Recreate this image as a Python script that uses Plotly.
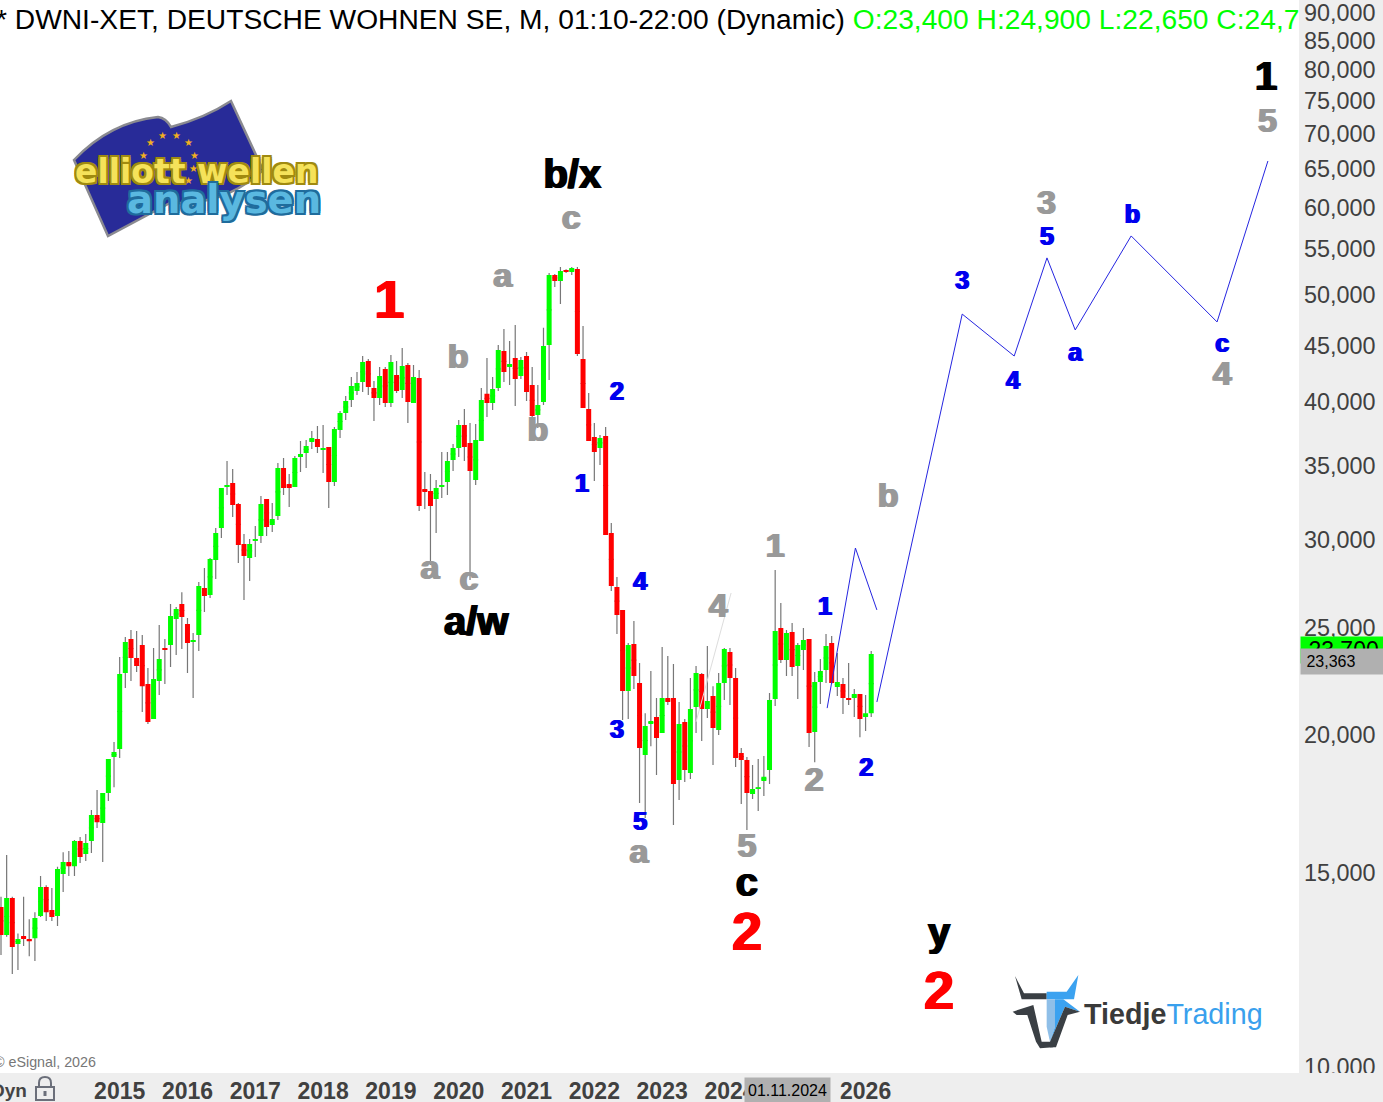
import math
import plotly.graph_objects as go

opens = [13960,13170,14220,12920,13140,13060,13080,13700,14550,13870,13700,14950,15330,15200,16020,15590,16020,16910,16630,17700,
19080,19400,22740,24400,23460,24100,22220,20660,22360,23950,24100,25440,26250,25180,24250,24610,27140,26750,28780,30760,
33500,33780,32340,29750,28900,29940,30250,32680,30950,31540,34860,33710,33500,35670,35970,36800,37030,36190,36420,33850,
37730,39090,40170,40930,41710,43570,41190,40340,42850,39920,42320,41010,43210,39920,42050,33370,33230,32680,33500,33850,
35440,36340,38130,36720,34000,36880,40680,39920,41190,44490,43030,43840,42230,44020,41450,38930,40000,45050,52120,51480,
52670,52450,52780,43750,39420,37180,36340,37260,30440,27200,25930,21900,24150,22270,19160,20440,20740,20060,21580,21580,
18190,20530,18460,21180,22690,21090,21670,20190,22270,23750,22500,19240,18960,17670,17850,18150,18570,21540,24970,23360,
24760,23070,23850,24400,20100,22310,22880,24200,22080,22220,21580,21580,21760,20740,20910]
highs = [14260,15560,14260,13210,14260,13610,13810,14890,14610,14520,15180,15650,15690,16050,16150,16250,17090,17810,17700,19000,
19690,23500,24500,24870,24810,24610,22970,23950,25130,24400,26250,26090,26900,25500,24710,27480,28300,28900,30760,33440,
35370,34790,32410,30380,30060,30890,32880,32680,32410,35220,35590,34420,35740,36880,36950,37650,38050,38130,36420,37970,
39260,40510,42140,42580,44020,43750,41790,43030,43030,44110,43570,44770,43390,43210,42760,34570,34420,34000,36040,36040,
36650,38530,39420,38280,38200,41190,43840,42140,45050,46580,45420,46970,43930,44400,43030,41450,46680,52340,52230,53000,
52750,53000,53000,46870,40760,38280,37340,37970,31080,27770,25930,24200,25340,23210,20910,22830,21580,24000,23560,23170,
21400,20660,22500,23070,22740,24050,22120,22740,23950,23950,22970,19440,19080,18770,19000,19120,21810,28180,26300,24870,
25230,24200,24970,24400,22780,23410,24660,24560,23700,22500,23210,21990,21760,21720,23800]
lows = [12630,13120,12140,12240,12870,12600,12470,13670,13560,13560,13420,14400,14890,14890,15300,15360,15620,16460,15330,17410,
17920,19040,22030,22360,22780,20960,20440,20660,21720,22220,23020,23600,23900,22740,21580,23800,25820,26580,27660,30130,
32950,31470,28600,26470,27540,28960,29810,30250,30500,31280,32950,32130,33500,34570,34860,36270,35970,34500,32070,33570,
37110,38530,39590,40590,40840,40590,38450,39750,39590,39590,40760,40340,38280,39920,31870,32000,28470,30440,32750,32950,
34640,35670,35370,27600,33650,36880,38770,39340,40930,41710,41450,39670,41970,40080,38530,37890,39750,41880,50840,49070,
52340,52120,44020,39500,36880,33920,35080,30310,26970,24660,20610,20660,21990,17340,16800,19520,18380,20060,21270,16560,
17450,18110,18230,20060,19730,20700,18770,19980,21490,21270,18690,17300,16390,17480,17050,17590,18040,21220,23210,22590,
22590,21540,22880,19480,18880,21310,22270,22220,21670,20870,21270,20740,19890,20150,20740]
closes = [13170,14220,12840,13060,13060,13000,13640,14550,13810,13670,15110,15330,15200,16020,15490,15950,16910,16660,17700,19000,
19280,22690,24250,23460,23070,22120,20530,22450,23410,23850,25600,25980,25550,24200,24350,27260,26690,28840,30440,33440,
33650,32270,29690,29010,29750,30060,32340,30820,31340,34860,33440,33440,35590,35890,36490,37110,36420,36340,33850,37810,
39090,40080,41360,41620,43480,41270,40340,42230,39920,43480,40930,43120,40000,42140,32200,33160,32200,33440,33650,35370,
36340,38130,36420,34640,36950,40170,39920,41100,44580,42580,43300,41970,43660,40840,38850,39750,44950,52120,51480,52560,
52450,52890,44200,39500,36880,36040,37110,30310,27260,25650,21900,24100,22590,19440,20360,20570,19850,21580,21400,18040,
20440,18570,21090,22740,21090,21450,20270,22270,23900,22500,19040,18960,17700,17850,17920,18310,21490,24810,23360,24710,
23020,24100,24350,20060,22310,22830,24050,22270,22310,21580,21490,21760,20660,20910,23650]

year_ticks = [21, 33, 45, 57, 69, 81, 93, 105, 117, 129, 141, 153]
year_labels = ["2015", "2016", "2017", "2018", "2019", "2020", "2021", "2022", "2023", "2024", "2025", "2026"]
price_ticks = [10000, 15000, 20000, 25000, 30000, 35000, 40000, 45000, 50000, 55000, 60000, 65000, 70000, 75000, 80000, 85000, 90000]

path_a_x = [146.2, 151.2, 155.0]
path_a_y = [21130, 29500, 25930]
path_b_x = [155.0, 170.1, 179.3, 185.1, 190.1, 200.0, 215.2, 224.2]
path_b_y = [21400, 48040, 44020, 54010, 46480, 56540, 47260, 66100]
faint_x = [123.0, 129.2]
faint_y = [20530, 26860]

grey_text = ["c", "a", "b", "b", "a", "c", "1", "4", "a", "5", "2", "b", "3", "4", "5"]
grey_x = [100.9, 88.8, 80.9, 95.0, 75.9, 82.8, 137.0, 126.9, 112.9, 132.0, 143.9, 157.0, 185.0, 216.1, 224.1]
grey_y = [58330, 51720, 43740, 37570, 28170, 27490, 29500, 25980, 15580, 15780, 18080, 32740, 60190, 42220, 71410]
blue_text = ["2", "1", "4", "3", "5", "1", "2", "3", "5", "4", "a", "b", "c"]
blue_x = [109.0, 102.8, 113.1, 109.0, 113.1, 145.8, 153.1, 170.1, 185.1, 179.1, 190.1, 200.2, 216.1]
blue_y = [40720, 33600, 27400, 20120, 16610, 25980, 18580, 51320, 56250, 41660, 44170, 58830, 45000]
black_text = ["b/x", "a/w", "c", "y", "1"]
black_x = [101.1, 84.1, 132.0, 166.0, 223.9]
black_y = [63860, 25110, 14590, 13130, 78200]
red_text = ["1", "2", "2"]
red_x = [68.7, 132.0, 166.0]
red_y = [49060, 13140, 11610]

W, H, PW, PH = 1383, 1102, 1299, 1073
FONT = "Liberation Sans, Arial, sans-serif"
def px(x): return x / PW
def py(y): return 1 - y / PH
def pt(x, y): return f"{px(x):.5f},{py(y):.5f}"
def poly(points, ox=0, oy=0, k=1.0):
    parts = []
    for n, (a, b) in enumerate(points):
        parts.append(("M" if n == 0 else "L") + pt(ox + a * k, oy + b * k))
    return " ".join(parts) + " Z"
def heavy(col):
    return f"1px 0 0 {col},-1px 0 0 {col}"

xs = list(range(len(opens)))
mids = [math.sqrt(o * c) for o, c in zip(opens, closes)]

fig = go.Figure()
fig.add_trace(go.Scatter(x=faint_x, y=faint_y, mode="lines", line=dict(color="#dddddd", width=1), hoverinfo="skip"))
# wicks: grey candlestick whose box collapses inside the coloured body drawn on top of it
fig.add_trace(go.Candlestick(x=xs, open=mids, high=highs, low=lows, close=mids,
    increasing=dict(line=dict(color="#777777", width=1.2), fillcolor="#777777"),
    decreasing=dict(line=dict(color="#777777", width=1.2), fillcolor="#777777")))
fig.add_trace(go.Candlestick(x=xs, open=opens, high=highs, low=lows, close=closes,
    increasing=dict(line=dict(color="#00ff00", width=0), fillcolor="#00ff00"),
    decreasing=dict(line=dict(color="#ff0000", width=0), fillcolor="#ff0000")))
for px_, py_ in [(path_a_x, path_a_y), (path_b_x, path_b_y)]:
    fig.add_trace(go.Scatter(x=px_, y=py_, mode="lines", line=dict(color="#2525e0", width=1), hoverinfo="skip"))
for tx, lx, ly, col, size in [(grey_text, grey_x, grey_y, "#999999", 34), (blue_text, blue_x, blue_y, "#0000ee", 25),
                              (black_text, black_x, black_y, "#000000", 40), (red_text, red_x, red_y, "#ff0000", 54)]:
    fig.add_trace(go.Scatter(x=lx, y=ly, text=tx, mode="text", textposition="middle center", hoverinfo="skip",
                             textfont=dict(family=FONT, size=size, color=col, weight=700, shadow=heavy(col))))

flag_path = (f"M{pt(74,160)} Q{pt(110,122)} {pt(158,117)} Q{pt(166,118)} {pt(171,127)} Q{pt(205,118)} {pt(231,101)} "
             f"L{pt(263,170)} Q{pt(225,206)} {pt(170,203)} L{pt(108,236)} Z")
shapes = [
    # hides the part of the lowest price label that falls below the chart area
    dict(type="rect", xref="paper", yref="paper", x0=1, x1=W / PW, y0=py(H), y1=py(PH), fillcolor="#eeeeee",
         line=dict(width=0), layer="above"),
    # lock icon
    dict(type="path", xref="paper", yref="paper", path=poly([(36, 1087), (54, 1087), (54, 1100), (36, 1100)]),
         line=dict(color="#6b6f7a", width=2), fillcolor="rgba(0,0,0,0)", layer="above"),
    dict(type="path", xref="paper", yref="paper",
         path=f"M{pt(39,1087)} L{pt(39,1083)} Q{pt(39,1077)} {pt(45,1077)} Q{pt(51,1077)} {pt(51,1083)} L{pt(51,1087)}",
         line=dict(color="#6b6f7a", width=2), layer="above"),
    dict(type="rect", xref="paper", yref="paper", x0=px(43.5), x1=px(46.5), y0=py(1096), y1=py(1091),
         fillcolor="#6b6f7a", line=dict(width=0), layer="above"),
    # flag behind the Elliott logo
    dict(type="path", xref="paper", yref="paper", layer="below", fillcolor="#282b98", line=dict(color="#8a8a90", width=2.5), path=flag_path),
    # bull logo
    dict(type="path", xref="paper", yref="paper", layer="below", fillcolor="#3a3f44", line=dict(width=0),
         path=poly([(45,48),(72,100),(140,100),(140,118),(65,118)], 1000, 960, 1/3)),
    dict(type="path", xref="paper", yref="paper", layer="below", fillcolor="#3ba2f0", line=dict(width=0),
         path=poly([(140,95),(200,95),(235,45),(222,118),(140,118)], 1000, 960, 1/3)),
    dict(type="path", xref="paper", yref="paper", layer="below", fillcolor="#8fbfe8", line=dict(width=0),
         path=poly([(140,118),(165,118),(165,200),(150,245),(140,200)], 1000, 960, 1/3)),
    dict(type="path", xref="paper", yref="paper", layer="below", fillcolor="#3ba2f0", line=dict(width=0),
         path=poly([(165,118),(190,118),(240,155),(195,140),(150,245),(165,200)], 1000, 960, 1/3)),
    dict(type="path", xref="paper", yref="paper", layer="below", fillcolor="#3a3f44", line=dict(width=0),
         path=poly([(38,155),(100,135),(125,245),(150,245),(160,262),(120,265),(108,245),(82,165),(50,165)], 1000, 960, 1/3)),
    dict(type="path", xref="paper", yref="paper", layer="below", fillcolor="#3a3f44", line=dict(width=0),
         path=poly([(195,140),(240,155),(203,165),(168,262),(150,262),(150,245)], 1000, 960, 1/3)),
]

def note(x, y, text, size=16, color="#000000", xanchor="left", **kw):
    family = kw.pop("family", FONT)
    return dict(xref="paper", yref="paper", x=px(x), y=py(y), text=text, showarrow=False, xanchor=xanchor, yanchor="middle",
                font=dict(family=family, size=size, color=color), **kw)

outline_y = ",".join(f"{a}px {b}px 0 #a08a10" for a, b in [(-2,0),(2,0),(0,-2),(0,2),(-2,-2),(2,2),(-2,2),(2,-2)])
outline_b = ",".join(f"{a}px {b}px 0 #1f6c9c" for a, b in [(-2,0),(2,0),(0,-2),(0,2),(-2,-2),(2,2),(-2,2),(2,-2)])

annotations = [
    note(-6, 19, '* DWNI-XET, DEUTSCHE WOHNEN SE, M, 01:10-22:00 (Dynamic) <span style="color:#00ff00">O:23,400 H:24,900 L:22,650 C:24,7</span>', size=28.2),
    note(98, 1062, "© eSignal, 2026", size=14.3, color="#777777", xanchor="right"),
    note(29, 1090, "<b>Dyn</b>", size=19, color="#444444", xanchor="right"),
    note(1300, 650, "&nbsp;23,700", size=23, bgcolor="#00ff00", width=83, height=24, align="left"),
    note(1300, 661, "&nbsp;23,363", size=16, bgcolor="#b0b0b0", width=83, height=23, align="left"),
    note(787.5, 1090.5, "01.11.2024", size=16, xanchor="center", bgcolor="#b0b0b0", width=83, height=23),
    note(1082, 1014, '<b>Tiedje</b><span style="color:#39a0ed">Trading</span>', size=28.7, color="#3a3a3a"),
]
star_points = [(307,137),(349,137),(271,158),(384,158),(404,195),(250,195),(400,235),(385,272)]
for a, b in star_points:
    annotations.append(note(60 + a / 3, 90 + b / 3, "★", size=10, color="#f0b020", xanchor="center", family="DejaVu Sans"))
annotations += [
    dict(xref="paper", yref="paper", x=px(196), y=py(172), text="elliott wellen", showarrow=False, xanchor="center", yanchor="middle",
         font=dict(family="DejaVu Sans", size=33, color="#f5e25a", weight=700, shadow=outline_y)),
    dict(xref="paper", yref="paper", x=px(224), y=py(200), text="analysen", showarrow=False, xanchor="center", yanchor="middle",
         font=dict(family="DejaVu Sans", size=38.5, color="#5ab8e0", weight=700, shadow=outline_b)),
]

fig.update_layout(
    width=W, height=H, margin=dict(l=0, r=W - PW, t=0, b=H - PH, pad=0, autoexpand=False),
    paper_bgcolor="#eeeeee", plot_bgcolor="#ffffff", showlegend=False, boxmode="overlay", boxgap=0.115, boxgroupgap=0,
    font=dict(family=FONT), hovermode=False, shapes=shapes, annotations=annotations,
    xaxis=dict(type="linear", automargin=False, range=[-0.177, 229.7], rangeslider=dict(visible=False), showgrid=False, zeroline=False, showline=False,
               tickmode="array", tickvals=year_ticks, ticktext=year_labels, ticks="", ticklabelstandoff=2, ticklabeloverflow="allow",
               tickfont=dict(family=FONT, size=23, color="#404040", weight=700)),
    yaxis=dict(type="log", automargin=False, range=[3.99457, 4.96595], side="right", showgrid=False, zeroline=False, showline=False,
               tickmode="array", tickvals=price_ticks, ticktext=[f"{v:,}" for v in price_ticks], ticks="", ticklabelstandoff=4, ticklabeloverflow="allow",
               tickfont=dict(family=FONT, size=23.4, color="#404040")),
)
fig.write_html("out.html", config=dict(displayModeBar=False),
               post_script="document.body.style.margin='0';document.body.style.overflow='hidden';")
